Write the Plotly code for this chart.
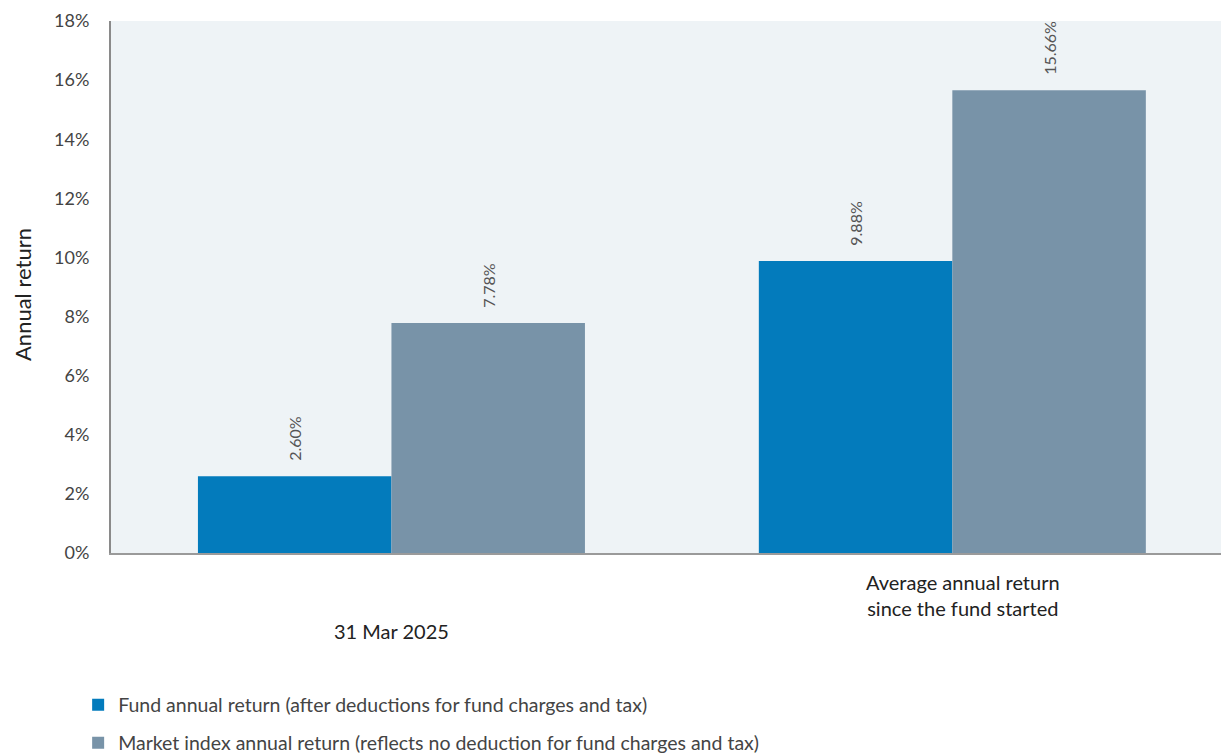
import plotly.graph_objects as go

categories = ["31 Mar 2025", "Average annual return<br>since the fund started"]
fund_values = [2.60, 9.88]
market_values = [7.78, 15.66]
series_names = [
    "Fund annual return (after deductions for fund charges and tax)",
    "Market index annual return (reflects no deduction for fund charges and tax)",
]
y_ticks = [0, 2, 4, 6, 8, 10, 12, 14, 16, 18]
y_ticktext = [f"{v}%" for v in y_ticks]
y_title = "Annual return"

FONT = "Lato, 'Open Sans', sans-serif"
fund_color = "#037bbc"
market_color = "#7893a8"

fig = go.Figure()
fig.add_trace(go.Bar(
    x=categories, y=fund_values, name=series_names[0],
    marker=dict(color=fund_color, line=dict(width=0)),
    texttemplate="\u00a0\u00a0\u00a0%{y:.2f}%", textposition="outside", textangle=-90,
    textfont=dict(family=FONT, size=16, color="#555555"),
    constraintext="none", cliponaxis=True, legend="legend",
))
fig.add_trace(go.Bar(
    x=categories, y=market_values, name=series_names[1],
    marker=dict(color=market_color, line=dict(width=0)),
    texttemplate="\u00a0\u00a0\u00a0%{y:.2f}%", textposition="outside", textangle=-90,
    textfont=dict(family=FONT, size=16, color="#555555"),
    constraintext="none", cliponaxis=True, legend="legend2",
))

# category labels placed below axis
shifts = [(-64, 0), (-15, 11)]
for cat, (ys, xs) in zip(categories, shifts):
    fig.add_annotation(
        x=cat, y=0, xref="x", yref="paper", yanchor="top", yshift=ys, xshift=xs,
        text=cat, showarrow=False, align="center",
        font=dict(family=FONT, size=20, color="#222222"),
    )

# y-axis title
fig.add_annotation(
    x=(22 - 111) / 1110, y=0.5, xref="paper", yref="paper",
    xanchor="center", yanchor="middle", yshift=-8, textangle=-90,
    text=y_title, showarrow=False,
    font=dict(family=FONT, size=22, color="#222222"),
)

fig.update_layout(
    width=1221, height=753,
    margin=dict(l=111, r=0, t=21, b=200, autoexpand=False),
    paper_bgcolor="white", plot_bgcolor="#eef3f6",
    barmode="group", bargap=0.31, bargroupgap=0,
    font=dict(family=FONT, size=17, color="#444444"),
    xaxis=dict(
        range=[-0.5, 1.479], showticklabels=False, showgrid=False,
        showline=True, linecolor="#9a9a9a", linewidth=1.5, zeroline=False,
        fixedrange=True, automargin=False,
    ),
    yaxis=dict(
        range=[0, 18], tickvals=y_ticks, ticktext=y_ticktext,
        showgrid=False, zeroline=False, showline=True, linecolor="#8a8a8a", linewidth=2,
        ticks="", ticklabelstandoff=16, automargin=False,
        tickfont=dict(family=FONT, size=18, color="#444444"),
    ),
    legend=dict(
        x=0.064, y=1 - 705 / 753, xref="container", yref="container",
        xanchor="left", yanchor="middle", bgcolor="rgba(0,0,0,0)",
        font=dict(family=FONT, size=19.5, color="#444444"),
    ),
    legend2=dict(
        x=0.064, y=1 - 743 / 753, xref="container", yref="container",
        xanchor="left", yanchor="middle", bgcolor="rgba(0,0,0,0)",
        font=dict(family=FONT, size=19.5, color="#444444"),
    ),
    showlegend=True,
)

fig.write_html("out.html")
